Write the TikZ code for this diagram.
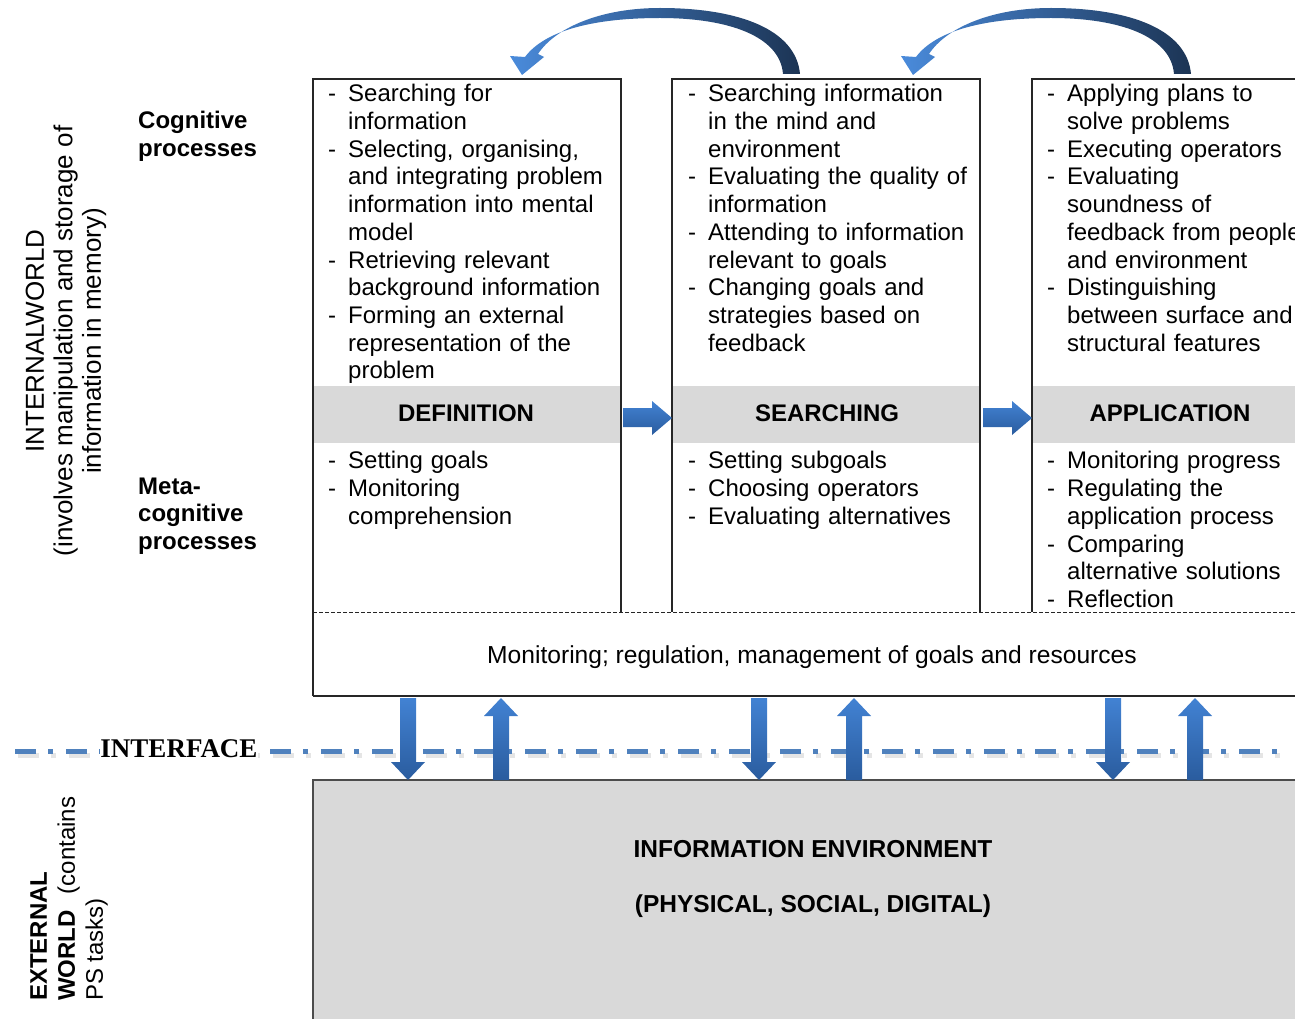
\documentclass[tikz,border=0pt]{standalone}
\usepackage{fontspec}
\setmainfont{Liberation Sans}
\newfontfamily\timesf{Liberation Serif}
\definecolor{bandgray}{HTML}{D9D9D9}
\definecolor{envgray}{HTML}{D9D9D9}
\definecolor{arrowtop}{HTML}{4282D3}
\definecolor{arrowbot}{HTML}{2A5C9E}
\definecolor{ifline}{HTML}{4F81BD}
\definecolor{curvelight}{HTML}{4A8BDB}
\definecolor{curvemid}{HTML}{3A72BC}
\definecolor{curvedark}{HTML}{1C3454}
\newcommand\colitem[1]{\par\noindent\hangindent=21pt\hangafter=1\makebox[21pt][l]{\hspace{1pt}-}\strut#1\par}
\newcommand\myDownArrow[1]{\path[blockarrow] (#1-8,698) -- (#1+8,698) -- (#1+8,762) -- (#1+17,762) -- (#1,780) -- (#1-17,762) -- (#1-8,762) -- cycle;}
\newcommand\myUpArrow[1]{\path[blockarrow] (#1,698) -- (#1+17,716) -- (#1+8,716) -- (#1+8,780) -- (#1-8,780) -- (#1-8,716) -- (#1-17,716) -- cycle;}
\begin{document}
\begin{tikzpicture}[x=1pt,y=-1pt,
  basefont/.style={font=\fontsize{24}{27.7}\selectfont},
  coltext/.style={anchor=north west, inner sep=0pt, text width=330pt, align=left, basefont},
  header/.style={font=\fontsize{24}{28}\selectfont\bfseries, inner sep=0pt},
  boxline/.style={draw=black!85, line width=1.1pt},
  blockarrow/.style={top color=arrowtop, bottom color=arrowbot},
  curvedarrow/.style={left color=curvelight, middle color=curvemid, right color=curvedark},
  ifdash/.style={line width=5pt, dash pattern=on 21pt off 12pt on 5pt off 13pt}
]
\useasboundingbox (0,0) rectangle (1295,1019);
\begin{scope}
\clip (0,0) rectangle (1295,1019);
% gray bands
\fill[bandgray] (313,386) rectangle (621,443);
\fill[bandgray] (672,386) rectangle (980,443);
\fill[bandgray] (1032,386) rectangle (1340,443);
% column boxes
\draw[boxline] (313,696) -- (313,79) -- (621,79) -- (621,612);
\draw[boxline] (672,612) -- (672,79) -- (980,79) -- (980,612);
\draw[boxline] (1032,612) -- (1032,79) -- (1340,79) -- (1340,612);
% monitoring box
\draw[black!85, line width=0.9pt, dash pattern=on 4pt off 2pt] (313,612) -- (1300,612);
\draw[boxline] (313,696) -- (1300,696);
% information environment
\filldraw[fill=envgray, draw=black!70, line width=1.1pt] (313,780) rectangle (1300,1030);

% left labels
\node[rotate=90, align=center, inner sep=0pt, font=\fontsize{26}{28.5}\selectfont] (internal) at (66,341)
  {INTERNALWORLD\\(involves manipulation and storage of\\information in memory)};
\node[rotate=90, anchor=north west, align=left, inner sep=0pt, font=\fontsize{24}{28}\selectfont] (external) at (27,1001)
  {\strut\textbf{EXTERNAL}\\\textbf{WORLD}\hspace{16pt}(contains\\PS tasks)};
\node[anchor=north west, align=left, inner sep=0pt, font=\fontsize{24}{28}\selectfont\bfseries] (cog) at (138,108.6)
  {\strut Cognitive\\processes};
\node[anchor=north west, align=left, inner sep=0pt, font=\fontsize{24}{27.5}\selectfont\bfseries] (meta) at (138,474.6)
  {\strut Meta-\\cognitive\\processes};

% cognitive texts
\node[coltext] (defcog) at (327,74) {%
\colitem{Searching for\newline information}
\colitem{Selecting, organising,\newline and integrating problem\newline information into mental\newline model}
\colitem{Retrieving relevant\newline background information}
\colitem{Forming an external\newline representation of the\newline problem}};
\node[coltext] (searchcog) at (687,74) {%
\colitem{Searching information\newline in the mind and\newline environment}
\colitem{Evaluating the quality of\newline information}
\colitem{Attending to information\newline relevant to goals}
\colitem{Changing goals and\newline strategies based on\newline feedback}};
\node[coltext] (appcog) at (1046,74) {%
\colitem{Applying plans to\newline solve problems}
\colitem{Executing operators}
\colitem{Evaluating\newline soundness of\newline feedback from people\newline and environment}
\colitem{Distinguishing\newline between surface and\newline structural features}};

% headers
\node[header] (defh) at (466,413) {DEFINITION};
\node[header] (searchh) at (827,413) {SEARCHING};
\node[header] (apph) at (1170,413) {APPLICATION};

% metacognitive texts
\node[coltext] (defmeta) at (327,441) {%
\colitem{Setting goals}
\colitem{Monitoring\newline comprehension}};
\node[coltext] (searchmeta) at (687,441) {%
\colitem{Setting subgoals}
\colitem{Choosing operators}
\colitem{Evaluating alternatives}};
\node[coltext] (appmeta) at (1046,441) {%
\colitem{Monitoring progress}
\colitem{Regulating the\newline application process}
\colitem{Comparing\newline alternative solutions}
\colitem{Reflection}};

% monitoring text
\node[anchor=base, inner sep=0pt, font=\fontsize{24.6}{28}\selectfont] (mon) at (812,663)
  {Monitoring; regulation, management of goals and resources};

% environment text
\node[anchor=base, inner sep=0pt, font=\fontsize{24.5}{28}\selectfont\bfseries] (env1) at (813,857) {INFORMATION ENVIRONMENT};
\node[anchor=base, inner sep=0pt, font=\fontsize{24.5}{28}\selectfont\bfseries] (env2) at (813,912) {(PHYSICAL, SOCIAL, DIGITAL)};

% horizontal block arrows
\foreach \dx in {0,360}{
  \path[blockarrow, shift={(\dx,0)}] (623,408) -- (652,408) -- (652,401) -- (672,418) -- (652,435) -- (652,427) -- (623,427) -- cycle;
}

% curved arrows
\foreach \dx in {0,391}{
  \shade[curvedarrow, shift={(\dx,0)}]
   (800,74) .. controls (796,30) and (740,8) .. (660,8)
   .. controls (600,8) and (555,28) .. (538,54)
   -- (544,57) -- (522,75) -- (510,56) -- (525,57)
   .. controls (545,30) and (595,18) .. (660,18)
   .. controls (728,18) and (780,36) .. (783,74) -- cycle;
}

% interface line
\draw[black!10, ifdash] (18,755) -- (1288,755);
\draw[ifline, ifdash] (15,751) -- (1285,751);
\node[anchor=base, fill=white, inner xsep=0pt, inner ysep=1pt, font=\timesf\bfseries\fontsize{27}{30}\selectfont] (iface) at (179,757) {INTERFACE};

% vertical block arrows
\myDownArrow{408}
\myUpArrow{501}
\myDownArrow{759}
\myUpArrow{854}
\myDownArrow{1113}
\myUpArrow{1195}
\end{scope}
\end{tikzpicture}
\end{document}
